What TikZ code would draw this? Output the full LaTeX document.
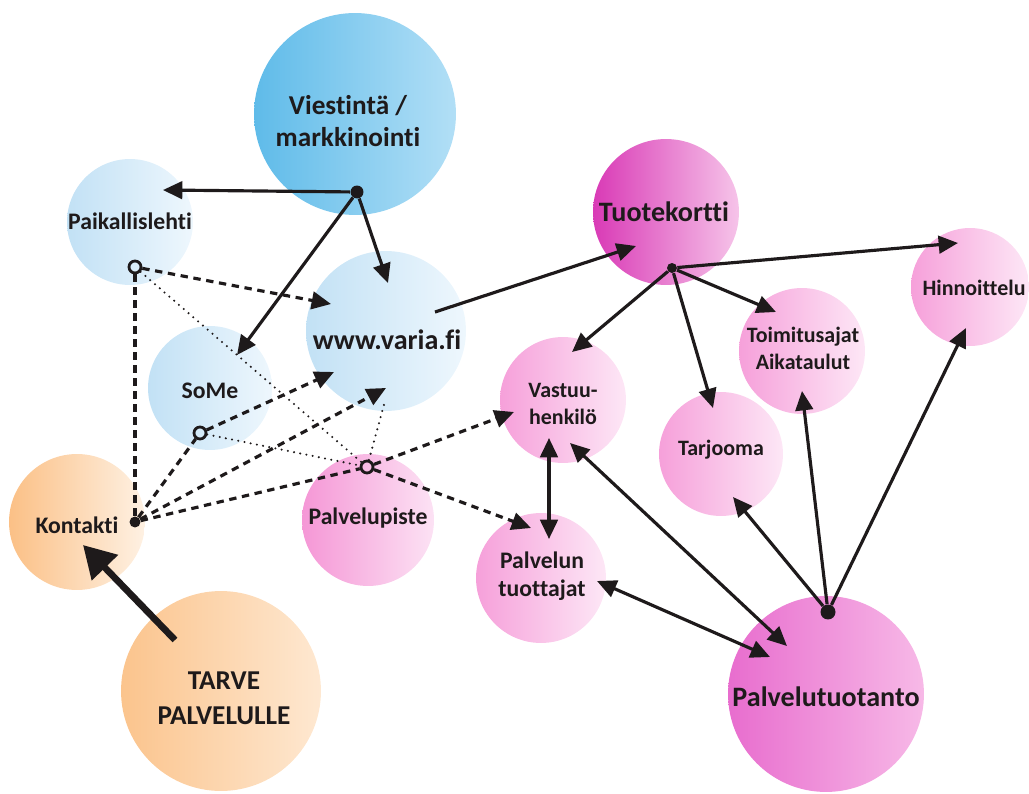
\documentclass[tikz,border=0pt]{standalone}
\usepackage{fontspec}
\setmainfont{Carlito}[Ligatures={NoCommon,NoContextual}]
\usetikzlibrary{arrows.meta}

% bubble colours (left -> right of each gradient)
\definecolor{ink}{HTML}{1E1A1B}
\definecolor{vblueL}{HTML}{5FBBE9}
\definecolor{vblueR}{HTML}{B2DFF6}
\definecolor{lblueL}{HTML}{C2E1F5}
\definecolor{lblueR}{HTML}{EEF7FD}
\definecolor{orangeL}{HTML}{FBC086}
\definecolor{orangeR}{HTML}{FEF1E3}
\definecolor{tarveL}{HTML}{FBC48D}
\definecolor{tarveR}{HTML}{FEE8D1}
\definecolor{magL}{HTML}{D93AB6}
\definecolor{magR}{HTML}{F6C4E9}
\definecolor{prodL}{HTML}{E86DCE}
\definecolor{prodR}{HTML}{F7B9E7}
\definecolor{pinkL}{HTML}{F6A0DA}
\definecolor{pinkR}{HTML}{FDE7F6}
\definecolor{pisteL}{HTML}{F597D6}
\definecolor{pisteR}{HTML}{FCE2F4}

\tikzset{
  bubble/.style={circle, inner sep=0pt, minimum size=#1*0.04cm},
  tbig/.style={font=\bfseries\fontsize{16}{19}\selectfont, text=ink, align=center, inner sep=0pt},
  tview/.style={font=\bfseries\fontsize{15.5}{18.5}\selectfont, text=ink, align=center, inner sep=0pt},
  ttarve/.style={font=\bfseries\fontsize{15.5}{20}\selectfont, text=ink, align=center, inner sep=0pt},
  tmid/.style={font=\bfseries\fontsize{13.5}{16}\selectfont, text=ink, align=center, inner sep=0pt},
  tsml/.style={font=\bfseries\fontsize{12.5}{15.5}\selectfont, text=ink, align=center, inner sep=0pt},
  hub/.style={circle, fill=ink, inner sep=0pt, minimum size=#1*0.04cm},
  ring/.style={circle, draw=ink, line width=1.6pt, inner sep=0pt, minimum size=0.24cm},
  >={Triangle[length=11pt,width=10pt]},
  link/.style={draw=ink, line width=1.8pt},
  dlink/.style={draw=ink, line width=1.8pt, dash pattern=on 4.2pt off 3.2pt},
  dotlink/.style={draw=ink, line width=1.3pt, line cap=round, dash pattern=on 0pt off 3.6pt},
  heavy/.style={draw=ink, line width=3.8pt, -{Triangle[length=18pt,width=20pt]}}
}

\begin{document}
\begin{tikzpicture}[x=0.02cm, y=-0.02cm]
\path[use as bounding box] (0,0) rectangle (1029,794);

% ---- bubbles ----
\node[bubble=101, left color=vblueL, right color=vblueR] (viesti) at (355,114) {};
\node[bubble=63, left color=lblueL, right color=lblueR] (paik) at (130,222) {};
\node[bubble=80, left color=lblueL, right color=lblueR] (www) at (386,331) {};
\node[bubble=62, left color=lblueL, right color=lblueR] (some) at (210,388) {};
\node[bubble=68, left color=orangeL, right color=orangeR] (kontakti) at (77,522) {};
\node[bubble=100, left color=tarveL, right color=tarveR] (tarve) at (221,691) {};
\node[bubble=66, left color=pisteL, right color=pisteR] (piste) at (368,520) {};
\node[bubble=73, left color=magL, right color=magR] (tuote) at (666,212) {};
\node[bubble=59, left color=pinkL, right color=pinkR] (hinta) at (970,287) {};
\node[bubble=63, left color=pinkL, right color=pinkR] (toimi) at (802,351) {};
\node[bubble=63, left color=pinkL, right color=pinkR] (vastuu) at (563,400) {};
\node[bubble=62, left color=pinkL, right color=pinkR] (tarjo) at (721,454) {};
\node[bubble=65, left color=pinkL, right color=pinkR] (tuottajat) at (541,578) {};
\node[bubble=98, left color=prodL, right color=prodR] (tuotanto) at (826,694) {};

% ---- labels ----
\node[tview] (viesti-t) at (348,121) {Viestintä /\\markkinointi};
\node[tmid] (paik-t) at (130,221) {Paikallislehti};
\node[tbig] (www-t) at (387,340) {www.varia.fi};
\node[tmid] (some-t) at (210,391) {SoMe};
\node[tmid] (kontakti-t) at (77,525) {Kontakti};
\node[ttarve] (tarve-t) at (224,698) {TARVE\\PALVELULLE};
\node[tmid] (piste-t) at (368,518) {Palvelupiste};
\node[tbig] (tuote-t) at (664,212) {Tuotekortti};
\node[tsml] (hinta-t) at (974,288) {Hinnoittelu};
\node[tsml] (toimi-t) at (803,348) {Toimitusajat\\Aikataulut};
\node[tsml] (vastuu-t) at (563,404) {Vastuu-\\henkilö};
\node[tsml] (tarjo-t) at (721,450) {Tarjooma};
\node[tmid] (tuottajat-t) at (542,576) {Palvelun\\tuottajat};
\node[tbig] (tuotanto-t) at (826,697) {Palvelutuotanto};

% ---- junction points ----
\node[hub=6.5] (vdot) at (357,192) {};
\node[hub=5] (tdot) at (672,268) {};
\node[hub=7.5] (pdot) at (828,612) {};
\node[hub=5.5] (kdot) at (135,522) {};
\node[ring] (ringP) at (135,267) {};
\node[ring] (ringS) at (200,433) {};
\node[ring] (ringV) at (367,467) {};

% ---- arrow ends inside the bubbles ----
\coordinate (paik-in) at (163,190);
\coordinate (www-in) at (388,283);
\coordinate (some-in) at (237,355);
\coordinate (www-out) at (435,312);
\coordinate (tuote-in) at (636,246);
\coordinate (hinta-in) at (958,243);
\coordinate (vastuu-in) at (572,352);
\coordinate (tarjo-in) at (713,408);
\coordinate (toimi-in) at (776,312);
\coordinate (vastuu-b) at (549,438);
\coordinate (tuottajat-b) at (549,539);
\coordinate (vastuu-c) at (570,443);
\coordinate (tuotanto-a) at (787,646);
\coordinate (tuottajat-c) at (597,581);
\coordinate (tuotanto-b) at (770,657);
\coordinate (tarjo-b) at (733,497);
\coordinate (toimi-b) at (802,391);
\coordinate (hinta-b) at (966,328);
\coordinate (tarve-out) at (175,640);
\coordinate (kontakti-in) at (83,545);
\coordinate (www-d1) at (331,304);
\coordinate (www-d2) at (334,372);
\coordinate (www-d3) at (386,388);
\coordinate (www-d4) at (385,401);
\coordinate (vastuu-d) at (514,412);
\coordinate (tuottajat-d) at (531,528);

% ---- communication arrows ----
\draw[link, ->] (vdot) -- (paik-in);
\draw[link, ->] (vdot) -- (www-in);
\draw[link, ->] (vdot) -- (some-in);
\draw[link, ->] (www-out) -- (tuote-in);

% ---- product card arrows ----
\draw[link, ->] (tdot) -- (hinta-in);
\draw[link, ->] (tdot) -- (vastuu-in);
\draw[link, ->] (tdot) -- (tarjo-in);
\draw[link, ->] (tdot) -- (toimi-in);

% ---- production arrows ----
\draw[link, <->] (vastuu-b) -- (tuottajat-b);
\draw[link, <->] (vastuu-c) -- (tuotanto-a);
\draw[link, <->] (tuottajat-c) -- (tuotanto-b);
\draw[link, ->] (pdot) -- (tarjo-b);
\draw[link, ->] (pdot) -- (toimi-b);
\draw[link, ->] (pdot) -- (hinta-b);

% ---- need -> contact ----
\draw[heavy] (tarve-out) -- (kontakti-in);

% ---- contact paths (dashed) ----
\draw[dlink, ->] (ringP) -- (www-d1);
\draw[dlink] (ringP) -- (kdot);
\draw[dlink] (kdot) -- (ringS);
\draw[dlink, ->] (ringS) -- (www-d2);
\draw[dlink, ->] (kdot) -- (www-d3);
\draw[dlink] (kdot) -- (ringV);
\draw[dlink, ->] (ringV) -- (vastuu-d);
\draw[dlink, ->] (ringV) -- (tuottajat-d);

% ---- weak links (dotted) ----
\draw[dotlink] (ringP) -- (ringV);
\draw[dotlink] (ringS) -- (ringV);
\draw[dotlink] (ringV) -- (www-d4);

\end{tikzpicture}
\end{document}
